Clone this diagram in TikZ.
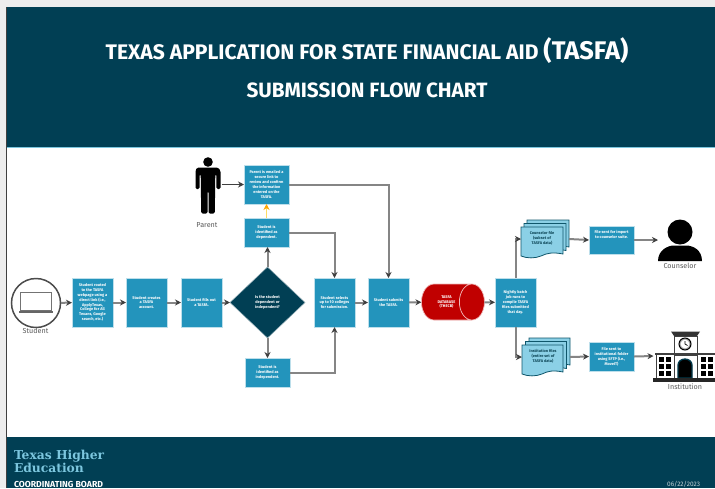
\documentclass[tikz,border=0pt]{standalone}
\usepackage{fontspec}
\setmainfont{Fira Sans}
\newfontfamily\slabfont{DejaVu Serif}
\usetikzlibrary{arrows.meta,shapes.geometric}
\definecolor{navy}{HTML}{013F54}
\definecolor{boxblue}{HTML}{2394BC}
\definecolor{docblue}{HTML}{8BD0E6}
\definecolor{docline}{HTML}{0F566B}
\definecolor{linegray}{HTML}{858585}
\definecolor{tipgray}{HTML}{3F3F3F}
\definecolor{dbred}{HTML}{C00000}
\definecolor{dbedge}{HTML}{F0B8B8}
\definecolor{footblue}{HTML}{7CC6DE}
\newcommand{\fs}[1]{\fontsize{#1}{#1}\selectfont}
\newcommand{\boxfont}{\fontsize{3.9}{4.9}\selectfont\bfseries}
\tikzset{
  flowbox/.style={draw=white!70!boxblue,line width=.5pt,fill=boxblue,text=white,font=\boxfont,align=center,inner sep=0pt,outer sep=0pt},
  tallbox/.style={flowbox,minimum width=41pt,minimum height=49pt},
  connector/.style={draw=linegray,line width=2pt,-{Stealth[length=6pt,width=6pt,color=tipgray]}},
  darkconnector/.style={draw=tipgray,line width=1.2pt,-{Stealth[length=6pt,width=6pt,color=tipgray]}},
  ghost/.style={inner sep=0pt,outer sep=0pt},
  iconlabel/.style={ghost,text=black!65,font=\fs{7.2}},
  stackpage/.style={draw=docline,line width=.8pt,fill=docblue},
  doctext/.style={ghost,text=docline!80!black,font=\boxfont,align=center},
  titletext/.style={ghost,text=white,font=\fs{20.7}\bfseries}
}
\begin{document}
\begin{tikzpicture}[x=1pt,y=-1pt]
\useasboundingbox (0,0) rectangle (715,488);
% page frame
\fill[black!7] (0,0) rectangle (715,488);
\fill[white] (7,147) rectangle (715,437);
\fill[navy] (6,7) rectangle (715,147);
\fill[navy] (6,437) rectangle (715,488);
\draw[black!75,line width=.9pt] (6.5,7) -- (6.5,488);
\draw[footblue,line width=.6pt] (7,147.3) -- (715,147.3);
% titles
\node[titletext,font=\fs{21.1}\bfseries,anchor=base] (title1) at (367,59) {TEXAS APPLICATION FOR STATE FINANCIAL AID {\fs{25.5}(TASFA)}};
\node[titletext,anchor=base] (title2) at (367,97) {SUBMISSION FLOW CHART};
% footer
\node[ghost,anchor=base west,text=footblue,font=\fs{12.3}\slabfont\bfseries,align=left] (logo1) at (14,459) {Texas Higher};
\node[ghost,anchor=base west,text=footblue,font=\fs{12.3}\slabfont\bfseries,align=left] (logo2) at (14,472) {Education};
\node[ghost,anchor=base west,text=white,font=\fs{8.7}\bfseries] (logo3) at (14,487) {COORDINATING BOARD};
\node[ghost,anchor=base east,text=white!75!navy,font=\fs{6.5}] (date) at (700,486) {06/22/2023};
% student
\node[circle,draw=black!70,line width=1.5pt,fill=white,minimum size=49pt,inner sep=0pt,outer sep=.5pt] (student) at (36,303) {};
\draw[black!55,line width=.9pt,fill=white] (20.5,292) rectangle (51.5,310);
\draw[black!60,line width=1.3pt] (19,312) -- (53,312);
\node[iconlabel] (studentlabel) at (35.5,331) {Student};
% parent
\node[ghost,minimum width=27pt,minimum height=56pt] (parent) at (208,186) {};
\fill[black] (208,162) circle (4.8);
\fill[black,rounded corners=1.5pt] (197,167.5) -- (218,167.5) -- (220.5,170.5) -- (220.5,189) -- (216.3,189) -- (216.3,174) -- (215.3,174) -- (214.8,213.5) -- (208.5,213.5) -- (208.5,191) -- (207.5,191) -- (207.5,213.5) -- (201.2,213.5) -- (200.7,174) -- (199.7,174) -- (199.7,189) -- (195.5,189) -- (195.5,170.5) -- cycle;
\node[iconlabel] (parentlabel) at (207,225) {Parent};
% boxes
\node[tallbox] (routed) at (92.5,302.5) {Student routed\\to the TASFA\\webpage using a\\direct link (i.e.,\\ApplyTexas,\\College for All\\Texans, Google\\search, etc.)};
\node[tallbox] (creates) at (146.5,302.5) {Student creates\\a TASFA\\account.};
\node[tallbox] (fills) at (201.5,302.5) {Student fills out\\a TASFA.};
\node[diamond,draw=white!60!navy,line width=.5pt,fill=navy,text=white,font=\boxfont,align=center,inner sep=0pt,minimum width=75pt,minimum height=71pt,aspect=1.05,outer sep=0pt] (question) at (267.5,302.5) {Is the student\\dependent or\\independent?};
\node[flowbox,minimum width=45pt,minimum height=39pt] (emailed) at (266.5,184.5) {Parent is emailed a\\secure link to\\review and confirm\\the information\\entered on the\\TASFA.};
\node[flowbox,minimum width=45pt,minimum height=29pt] (dependent) at (266.5,232.5) {Student is\\identified as\\dependent.};
\node[flowbox,minimum width=45pt,minimum height=29pt] (independent) at (267.5,372.5) {Student is\\identified as\\independent.};
\node[tallbox] (selects) at (334.5,302.5) {Student selects\\up to 10 colleges\\for submission.};
\node[tallbox] (submits) at (388.5,302.5) {Student submits\\the TASFA.};
\node[cylinder,draw=dbedge,line width=.7pt,cylinder uses custom fill,cylinder body fill=dbred,cylinder end fill=dbred,shape aspect=1.9,minimum width=36pt,minimum height=63pt,inner sep=0pt,outer sep=0pt,text=white,font=\boxfont,align=center] (database) at (446.5,302) {TASFA\\DATABASE\\(THECB)};
\node[tallbox] (batch) at (515.5,302.5) {Nightly batch\\job runs to\\compile TASFA\\files submitted\\that day.};
% counselor file stack
\foreach \dx/\dy in {6/-7,3/-3.5,0/0}{
  \begin{scope}[shift={(\dx,\dy)}]
  \draw[stackpage] (521,227) -- (563,227) -- (563,254) .. controls (553,252) and (547,253) .. (541,256) .. controls (535,258.5) and (527,258.5) .. (521,256) -- cycle;
  \end{scope}}
\node[ghost,minimum width=48pt,minimum height=38pt] (counselorfile) at (545,239) {};
\node[doctext] (counselorfiletext) at (542,238.5) {Counselor file\\(subset of\\TASFA data)};
% institution file stack
\foreach \dx/\dy in {7/-7,3.5/-3.5,0/0}{
  \begin{scope}[shift={(\dx,\dy)}]
  \draw[stackpage] (522,345) -- (563,345) -- (563,372) .. controls (553,370) and (548,371) .. (542,374) .. controls (536,376.5) and (528,376.5) .. (522,374) -- cycle;
  \end{scope}}
\node[ghost,minimum width=48pt,minimum height=38pt] (institutionfile) at (546,357) {};
\node[doctext] (institutionfiletext) at (543,356.5) {Institution files\\(entire set of\\TASFA data)};
\node[flowbox,minimum width=45pt,minimum height=28pt] (import) at (611.5,240) {File sent for import\\to counselor suite.\\[6pt]};
\node[flowbox,minimum width=45pt,minimum height=29pt] (sftp) at (611.5,356.5) {File sent to\\institutional folder\\using SFTP (i.e.,\\MoveIT)};
% counselor icon
\node[ghost,minimum width=44pt,minimum height=44pt] (counselor) at (680,240) {};
\fill[black] (680,232) circle (12.5);
\fill[black] (658,261) .. controls (658,250) and (668,245.5) .. (674,245.5) -- (686,245.5) .. controls (693,245.5) and (702,250) .. (702,261) -- cycle;
\node[iconlabel] (counselorlabel) at (680,265.5) {Counselor};
% institution icon
\node[ghost,minimum width=62pt,minimum height=50pt] (institution) at (684.5,356) {};
\fill[black!80] (671,331.5) -- (700,331.5) -- (697,336) -- (674,336) -- cycle;
\draw[black!75,line width=.8pt,fill=white] (674,336) rectangle (697,378);
\draw[black!75,line width=.8pt,fill=white] (656,354) rectangle (674,378);
\draw[black!75,line width=.8pt,fill=white] (697,354) rectangle (715,378);
\fill[black!75] (655,352.5) rectangle (715,354.5);
\draw[black!75,line width=.8pt] (674,355) -- (697,355);
\draw[black,line width=1pt,fill=black!35] (685,344) circle (6);
\fill[white] (685,344) circle (4.4);
\draw[black,line width=.7pt] (685,341) -- (685,344) -- (687.5,345.5);
\foreach \wx in {658.5,665.5,701,708}{
  \foreach \wy in {357,364,371}{
    \fill[black] (\wx,\wy) rectangle ++(5,5);}}
\draw[navy!90!black,line width=1.3pt,fill=black] (678,378) -- (678,365) arc[start angle=180,end angle=0,x radius=7,y radius=-6] -- (692,378) -- cycle;
\fill[black!85] (653,378) rectangle (715,382);
\node[iconlabel] (institutionlabel) at (685,386.5) {Institution};
% connectors
\draw[connector] (student) -- (routed);
\draw[connector] (routed) -- (creates);
\draw[connector] (creates) -- (fills);
\draw[connector] (fills) -- (question);
\draw[connector] (question.north) -- (dependent.south -| question.north);
\draw[connector] (question) -- (independent);
\draw[draw=yellow!60!orange!60!white,line width=1.6pt,-{Stealth[length=6pt,width=6pt,color=orange!70!yellow]}] (dependent) -- (emailed);
\draw[darkconnector] (parent.east |- emailed) -- (emailed);
\draw[connector] (emailed) -| (submits);
\draw[connector] (dependent) -| (selects);
\draw[connector] (independent) -| (selects);
\draw[connector] (selects) -- (submits);
\draw[connector] (submits) -- (database);
\draw[connector] (database) -- (batch);
\draw[connector] (batch.north) |- (counselorfile.west);
\draw[connector] (batch.south) |- (institutionfile.west);
\draw[connector] (counselorfile.east) -- (import.west);
\draw[connector] (institutionfile.east) -- (sftp.west);
\draw[connector] (import.east) -- (counselor.west);
\draw[connector] (sftp.east) -- (institution.west);
\end{tikzpicture}
\end{document}
